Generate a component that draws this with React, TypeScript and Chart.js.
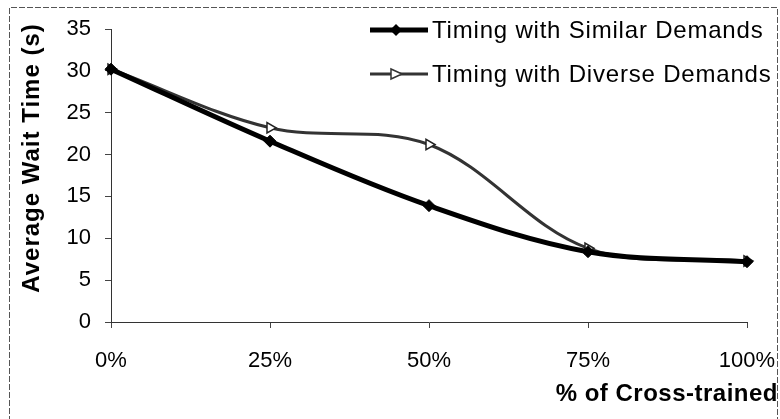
import React, { useEffect, useRef } from "react";
import { Chart, registerables } from "chart.js";

Chart.register(...registerables);

const categories = ["0%", "25%", "50%", "75%", "100%"];
const similarValues = [30.2, 21.6, 13.9, 8.4, 7.2];
const diverseValues = [30.2, 23.2, 21.2, 8.8, 7.3];
const seriesNames = ["Timing with Similar Demands", "Timing with Diverse Demands"];
const yTitle = "Average Wait Time (s)";
const xTitle = "% of Cross-trained";

const FONT = "'Liberation Sans', Arial, sans-serif";

const decorPlugin = {
  id: "decor",
  afterDraw(chart: any) {
    const ctx = chart.ctx as any;
    ctx.save();
    // outer border
    ctx.strokeStyle = "#555";
    ctx.lineWidth = 1;
    ctx.setLineDash([6, 2]);
    ctx.beginPath();
    ctx.moveTo(9.5, 430);
    ctx.lineTo(9.5, 7.5);
    ctx.lineTo(777.5, 7.5);
    ctx.lineTo(777.5, 430);
    ctx.stroke();
    ctx.setLineDash([]);

    // y title
    ctx.fillStyle = "#000";
    ctx.font = `bold 24px ${FONT}`;
    ctx.letterSpacing = "1px";
    ctx.textAlign = "center";
    ctx.textBaseline = "middle";
    ctx.save();
    ctx.translate(32, 158);
    ctx.rotate(-Math.PI / 2);
    ctx.fillText(yTitle, 0, 0);
    ctx.restore();

    // x title
    ctx.textAlign = "right";
    ctx.letterSpacing = "0.5px";
    ctx.fillText(xTitle, 778, 394);

    // legend
    const rows = [
      { y: 30, color: "#000", width: 5, style: "diamond", name: seriesNames[0] },
      { y: 74, color: "#333", width: 3, style: "tri", name: seriesNames[1] },
    ];
    ctx.font = `24px ${FONT}`;
    ctx.letterSpacing = "0.8px";
    ctx.textAlign = "left";
    for (const r of rows) {
      ctx.strokeStyle = r.color;
      ctx.lineWidth = r.width;
      ctx.beginPath();
      ctx.moveTo(370, r.y);
      ctx.lineTo(428, r.y);
      ctx.stroke();
      const cx = 396;
      if (r.style === "diamond") {
        ctx.fillStyle = "#000";
        ctx.beginPath();
        ctx.moveTo(cx, r.y - 6);
        ctx.lineTo(cx + 6, r.y);
        ctx.lineTo(cx, r.y + 6);
        ctx.lineTo(cx - 6, r.y);
        ctx.closePath();
        ctx.fill();
      } else {
        ctx.fillStyle = "#fff";
        ctx.lineWidth = 1.5;
        ctx.beginPath();
        ctx.moveTo(cx + 6, r.y);
        ctx.lineTo(cx - 5, r.y - 5);
        ctx.lineTo(cx - 5, r.y + 5);
        ctx.closePath();
        ctx.fill();
        ctx.stroke();
      }
      ctx.fillStyle = "#000";
      ctx.textBaseline = "middle";
      ctx.fillText(r.name, 432, r.y + 1);
    }
    ctx.restore();
  },
};

export default function App() {
  const ref = useRef<HTMLCanvasElement | null>(null);
  useEffect(() => {
    if (!ref.current) return;
    const chart = new Chart(ref.current, {
      type: "line",
      data: {
        labels: categories,
        datasets: [
          {
            label: seriesNames[0],
            data: similarValues,
            borderColor: "#000",
            backgroundColor: "#000",
            borderWidth: 5,
            tension: 0.35,
            pointStyle: "rectRot",
            pointRadius: 6,
            pointBackgroundColor: "#000",
            pointBorderColor: "#000",
            pointBorderWidth: 1,
          },
          {
            label: seriesNames[1],
            data: diverseValues,
            borderColor: "#333",
            backgroundColor: "#fff",
            borderWidth: 3,
            tension: 0.35,
            pointStyle: "triangle",
            rotation: 90,
            pointRadius: 6,
            pointBackgroundColor: "#fff",
            pointBorderColor: "#222",
            pointBorderWidth: 1.5,
          },
        ],
      },
      plugins: [decorPlugin],
      options: {
        responsive: false,
        animation: false,
        layout: { padding: { top: 29, right: 33, left: 0, bottom: 0 } },
        plugins: { legend: { display: false }, tooltip: { enabled: false } },
        scales: {
          x: {
            type: "category",
            offset: false,
            afterFit: (s: any) => { s.height = 97; s.paddingRight = 0; s.paddingLeft = 0; },
            grid: { drawOnChartArea: false, drawTicks: true, tickLength: 6, color: "#444" },
            border: { display: true, color: "#333", width: 1 },
            ticks: { color: "#000", font: { family: FONT, size: 22 }, padding: 20, maxRotation: 0 },
          },
          y: {
            min: 0,
            max: 35,
            afterFit: (s: any) => { s.width = 111; },
            grid: { drawOnChartArea: false, drawTicks: true, tickLength: 6, color: "#444" },
            border: { display: true, color: "#333", width: 1 },
            ticks: { stepSize: 5, color: "#000", font: { family: FONT, size: 22 }, padding: 14 },
          },
        },
      },
    });
    return () => chart.destroy();
  }, []);
  return (
    <div style={{ position: "fixed", left: 0, top: 0, width: 780, height: 419, background: "#fff" }}>
      <canvas ref={ref} width={780} height={419} />
    </div>
  );
}
